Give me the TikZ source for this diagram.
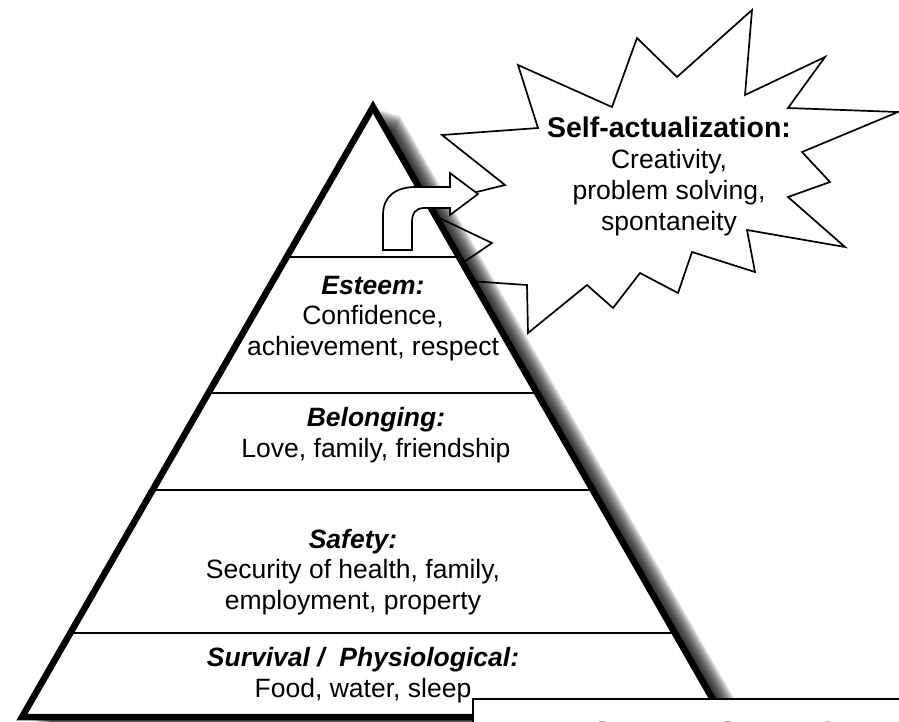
\documentclass[tikz,border=0pt]{standalone}
\usepackage{fontspec}
\setmainfont{Liberation Sans}
\usetikzlibrary{calc}

\tikzset{
  tiertext/.style={align=center, anchor=base, inner sep=0pt, font=\fontsize{26.5}{30.5}\selectfont},
  tierline/.style={line width=1.8pt},
  outline/.style={fill=white, line width=1.7pt}
}

\begin{document}
\begin{tikzpicture}[x=1pt, y=-1pt, line join=miter]
  \useasboundingbox (0,0) rectangle (899,721);
  \clip (0,0) rectangle (899,721);

  \coordinate (apex) at (373,107);
  \coordinate (bl) at (22,717);
  \coordinate (br) at (723,717);

  \filldraw[outline] (518,65) -- (538,128) -- (442,135) -- (505,185) -- (416,207) -- (492,243)
    -- (439,279) -- (527,285) -- (528,333) -- (587,285) -- (613,308) -- (640,273) -- (678,293)
    -- (692,252) -- (755,272) -- (747,230) -- (845,247) -- (788,197) -- (830,182) -- (802,152)
    -- (898,112) -- (788,108) -- (825,57) -- (745,95) -- (752,10) -- (677,77) -- (637,38)
    -- (612,107) -- cycle;
  \node[tiertext, font=\fontsize{26.5}{30.7}\selectfont] (selfact) at (669,230)
    {{\fontsize{28.5}{30.7}\selectfont\bfseries Self-actualization:}\\Creativity,\\problem solving,\\spontaneity};

  \foreach \i in {1,...,14}
    \fill[black, opacity=0.12] ([xshift=1.9*\i, yshift=-0.6*\i]apex) -- ([xshift=1.9*\i, yshift=-0.6*\i]bl)
      -- ([xshift=1.9*\i, yshift=-0.6*\i]br) -- cycle;

  \fill[white] (apex) -- (bl) -- (br) -- cycle;
  \foreach \t in {0.246,0.469,0.628,0.862}
    \draw[tierline] ($(apex)!\t!(bl)$) -- ($(apex)!\t!(br)$);
  \draw[line width=6.5pt] (apex) -- (bl) -- (br) -- cycle;

  \node[tiertext] (esteem) at (373,355) {\textbf{\textit{Esteem:}}\\Confidence,\\achievement, respect};
  \node[tiertext] (belonging) at (376,457) {\textbf{\textit{Belonging:}}\\Love, family, friendship};
  \node[tiertext] (safety) at (353,609) {\textbf{\textit{Safety:}}\\Security of health, family,\\employment, property};
  \node[tiertext] (survival) at (363,697) {\textbf{\textit{Survival /~~Physiological:}}\\Food, water, sleep};

  \filldraw[outline] (383,250) -- (383,215) .. controls (383,196) and (396,187) .. (416,187)
    -- (450,187) -- (450,173) -- (478,194) -- (450,215) -- (450,208) -- (424,208)
    .. controls (416,208) and (412,213) .. (412,222) -- (412,250) -- cycle;

  \filldraw[outline, line width=1.6pt] (473,699) rectangle (930,790);
  \node[anchor=base west, inner sep=0pt, font=\fontsize{46}{50}\selectfont\bfseries] (title) at (563,755) {Hierarchy of Needs};
\end{tikzpicture}
\end{document}
